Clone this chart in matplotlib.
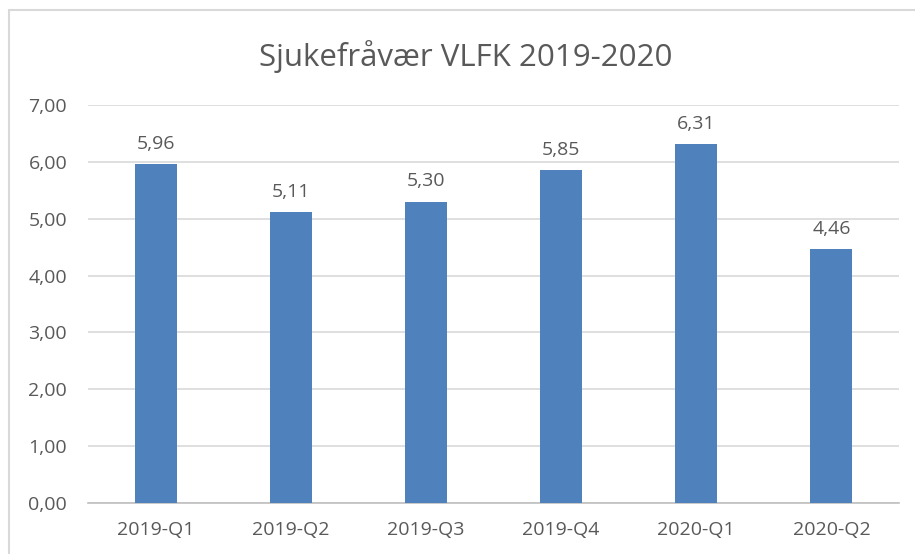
import matplotlib.pyplot as plt
from matplotlib.patches import Rectangle

quarters = ['2019-Q1', '2019-Q2', '2019-Q3', '2019-Q4', '2020-Q1', '2020-Q2']
sick_leave = [5.96, 5.11, 5.30, 5.85, 6.31, 4.46]
yticks = [0, 1, 2, 3, 4, 5, 6, 7]

text_color = '#595959'
bar_color = '#4F81BD'

plt.rcParams['font.family'] = ['Open Sans', 'DejaVu Sans']

fig = plt.figure(figsize=(9.15, 5.54), dpi=100)

# chart frame
fig.patches.append(Rectangle((9 / 915, -0.05), 1.0, 1 - 10 / 554 + 0.05,
                             transform=fig.transFigure, fill=False,
                             edgecolor='#D9D9D9', linewidth=1.5))

ax = fig.add_axes([88 / 915, 1 - 503 / 554, 811 / 915, 398 / 554])
x = range(len(quarters))
bars = ax.bar(x, sick_leave, width=0.31, color=bar_color, zorder=3)

for b, v in zip(bars, sick_leave):
    ax.text(b.get_x() + b.get_width() / 2, v + 0.2, f'{v:.2f}'.replace('.', ','),
            ha='center', va='bottom', fontsize=14, color=text_color)

ax.set_xlim(-0.5, len(quarters) - 0.5)
ax.set_ylim(0, 7)
ax.set_yticks(yticks)
ax.set_yticklabels([f'{t:.2f}'.replace('.', ',') for t in yticks])
ax.set_xticks(list(x))
ax.set_xticklabels(quarters)
ax.tick_params(axis='both', length=0, labelsize=14, colors=text_color)
ax.tick_params(axis='y', pad=15)
ax.tick_params(axis='x', pad=13)
ax.grid(axis='y', color='#D9D9D9', linewidth=1.2, zorder=0)
for side in ['top', 'right', 'left']:
    ax.spines[side].set_visible(False)
ax.spines['bottom'].set_color('#BFBFBF')
ax.spines['bottom'].set_linewidth(1.2)

fig.text(466 / 915, 1 - 57 / 554, 'Sjukefråvær VLFK 2019-2020', ha='center', va='center',
         fontsize=22.5, color=text_color)

fig.savefig('out.png', dpi=100)
